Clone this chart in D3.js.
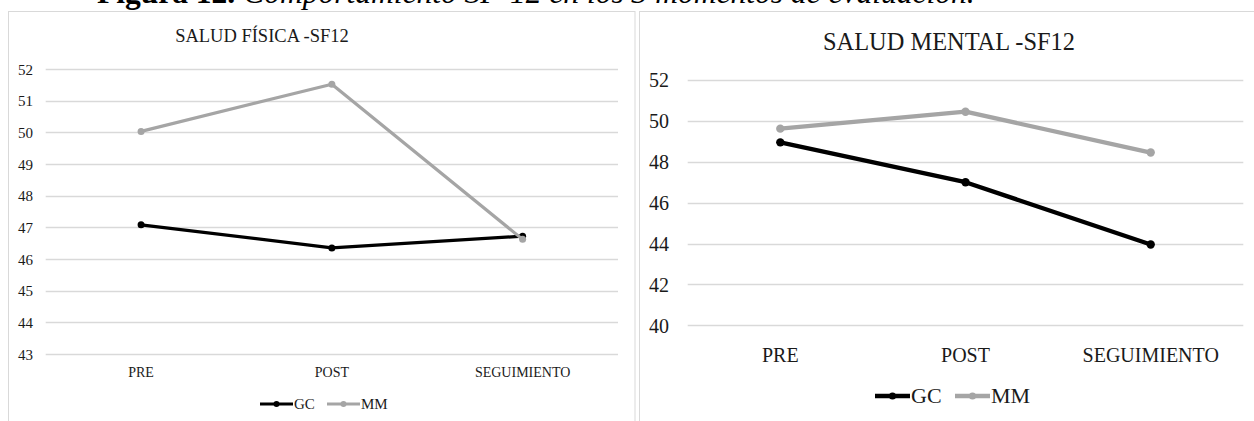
<!DOCTYPE html>
<html>
<head>
<meta charset="utf-8">
<script src="https://cdn.jsdelivr.net/npm/d3@7"></script>
<style>
  html, body { margin: 0; padding: 0; background: #fff; }
  svg { display: block; }
  svg text { font-family: "Liberation Serif", "Times New Roman", serif; }
</style>
</head>
<body>
<svg id="fig" width="1254" height="421"></svg>
<script>
// SF-12 scores at the three evaluation moments
const categories = ["PRE", "POST", "SEGUIMIENTO"];
const seriesNames = ["GC", "MM"];

// Physical health component
const fisicaGC = [47.08, 46.35, 46.72];
const fisicaMM = [50.03, 51.52, 46.62];
const fisicaTicks = [43, 44, 45, 46, 47, 48, 49, 50, 51, 52];

// Mental health component
const mentalGC = [48.95, 47.0, 43.95];
const mentalMM = [49.62, 50.45, 48.45];
const mentalTicks = [40, 42, 44, 46, 48, 50, 52];

const colors = { GC: "#000000", MM: "#a5a5a5" };
const textColor = "#1a1a1a";
const gridColor = "#d9d9d9";
const SERIF = "'Liberation Serif', 'Times New Roman', serif";

const svg = d3.select("#fig");

// Figure caption (only its lower part fits in the frame)
const caption = svg.append("text")
  .attr("x", 97).attr("y", 3)
  .style("font-family", SERIF)
  .attr("font-size", 31.5)
  .attr("fill", "#000");
caption.append("tspan").attr("font-weight", "bold").text("Figura 12. ");
caption.append("tspan").attr("font-style", "italic")
  .text("Comportamiento SF-12 en los 3 momentos de evaluación.");

function drawPanel(cfg) {
  const g = svg.append("g");

  // chart frame
  g.append("rect")
    .attr("x", cfg.box[0]).attr("y", cfg.box[1])
    .attr("width", cfg.box[2]).attr("height", cfg.box[3])
    .attr("fill", "#fff").attr("stroke", gridColor).attr("stroke-width", 1);

  const x = d3.scaleBand().domain(categories).range([cfg.left, cfg.right]);
  const y = d3.scaleLinear().domain(cfg.domain).range([cfg.bottom, cfg.top]);
  const cx = c => x(c) + x.bandwidth() / 2;

  // horizontal gridlines
  g.append("g").selectAll("line").data(cfg.ticks).join("line")
    .attr("x1", cfg.left).attr("x2", cfg.right)
    .attr("y1", d => Math.round(y(d)) + 0.5).attr("y2", d => Math.round(y(d)) + 0.5)
    .attr("stroke", gridColor).attr("stroke-width", 1.3);

  // value axis labels
  const yAxis = d3.axisLeft(y).tickValues(cfg.ticks).tickSize(0).tickPadding(0);
  const ya = g.append("g").attr("transform", `translate(${cfg.yLabelX},0)`).call(yAxis);
  ya.attr("font-family", null);
  ya.select(".domain").remove();
  ya.selectAll("text")
    .style("font-family", SERIF)
    .attr("font-size", cfg.tickSize).attr("fill", textColor)
    .attr("dy", "0.34em");

  // category axis labels
  const xAxis = d3.axisBottom(x).tickSize(0).tickPadding(0);
  const xa = g.append("g").attr("transform", `translate(0,${cfg.catY})`).call(xAxis);
  xa.attr("font-family", null);
  xa.select(".domain").remove();
  xa.selectAll("text")
    .style("font-family", SERIF)
    .attr("font-size", cfg.catSize).attr("fill", textColor)
    .attr("y", 0).attr("dy", 0);

  // title
  g.append("text")
    .attr("x", cfg.titleX).attr("y", cfg.titleY)
    .attr("text-anchor", "middle")
    .style("font-family", SERIF)
    .attr("font-size", cfg.titleSize).attr("fill", textColor)
    .text(cfg.title);

  // series lines and markers
  const line = d3.line().x((d, i) => cx(categories[i])).y(d => y(d));
  cfg.series.forEach(s => {
    g.append("path").datum(s.values)
      .attr("d", line).attr("fill", "none")
      .attr("stroke", colors[s.name]).attr("stroke-width", cfg.lineW)
      .attr("stroke-linejoin", "round").attr("stroke-linecap", "round");
    g.append("g").selectAll("circle").data(s.values).join("circle")
      .attr("cx", (d, i) => cx(categories[i])).attr("cy", d => y(d))
      .attr("r", cfg.markR).attr("fill", colors[s.name]);
  });

  // legend
  const lg = g.append("g");
  seriesNames.forEach((name, i) => {
    const lx = cfg.legendX[i];
    lg.append("line")
      .attr("x1", lx).attr("x2", lx + cfg.legendLen)
      .attr("y1", cfg.legendY).attr("y2", cfg.legendY)
      .attr("stroke", colors[name]).attr("stroke-width", cfg.lineW);
    lg.append("circle")
      .attr("cx", lx + cfg.legendLen / 2).attr("cy", cfg.legendY)
      .attr("r", cfg.markR * 0.85).attr("fill", colors[name]);
    lg.append("text")
      .attr("x", lx + cfg.legendLen + 1).attr("y", cfg.legendY)
      .attr("dy", "0.34em")
      .style("font-family", SERIF)
      .attr("font-size", cfg.legendSize).attr("fill", textColor)
      .text(name);
  });
}

drawPanel({
  title: "SALUD FÍSICA -SF12",
  box: [8.5, 11.5, 626.5, 430],
  left: 45.7, right: 618, top: 69, bottom: 354,
  domain: [43, 52], ticks: fisicaTicks,
  yLabelX: 33, tickSize: 15,
  catY: 377, catSize: 14,
  titleX: 262, titleY: 42, titleSize: 18.5,
  lineW: 3.2, markR: 3.5,
  legendX: [260, 327], legendLen: 33, legendY: 404, legendSize: 15,
  series: [{ name: "GC", values: fisicaGC }, { name: "MM", values: fisicaMM }]
});

drawPanel({
  title: "SALUD MENTAL -SF12",
  box: [639.5, 11.5, 640, 430],
  left: 687.7, right: 1243.3, top: 80, bottom: 325.3,
  domain: [40, 52], ticks: mentalTicks,
  yLabelX: 669, tickSize: 20,
  catY: 361.7, catSize: 20,
  titleX: 949, titleY: 50, titleSize: 24.4,
  lineW: 4.3, markR: 4.2,
  legendX: [875, 955], legendLen: 35, legendY: 396, legendSize: 22,
  series: [{ name: "GC", values: mentalGC }, { name: "MM", values: mentalMM }]
});
</script>
</body>
</html>
